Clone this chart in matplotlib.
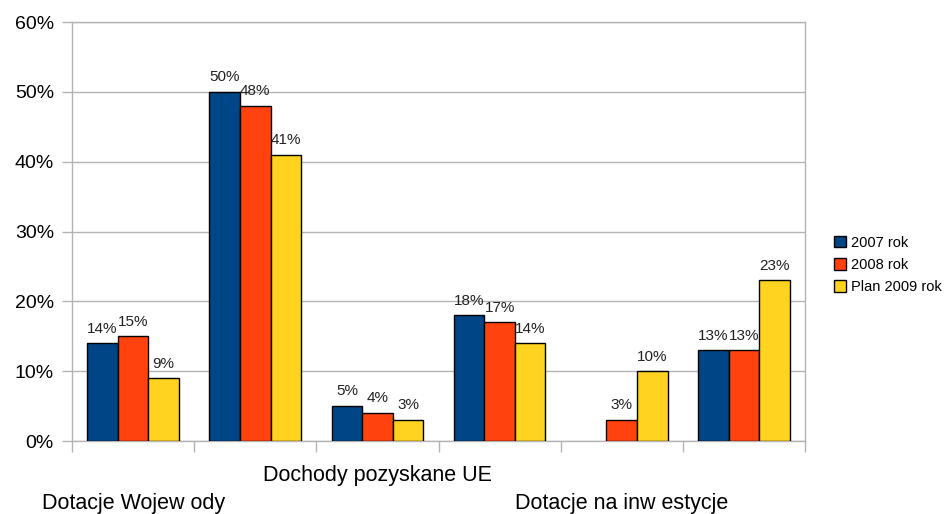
import numpy as np
import matplotlib
matplotlib.use('Agg')
import matplotlib.pyplot as plt
from matplotlib.ticker import FuncFormatter

plt.rcParams['font.family'] = ['Liberation Sans', 'DejaVu Sans']

# data (shares in %), only every other category label is printed in the original
categories = ["Dotacje Wojew ody", "", "Dochody pozyskane UE", "", "Dotacje na inw estycje", ""]
series_names = ["2007 rok", "2008 rok", "Plan 2009 rok"]
v2007 = [14, 50, 5, 18, np.nan, 13]
v2008 = [15, 48, 4, 17, 3, 13]
v2009 = [9, 41, 3, 14, 10, 23]
colors = ['#004586', '#ff420e', '#ffd320']

grid_col = '#b3b3b3'

fig = plt.figure(figsize=(9.46, 5.14), dpi=100)
ax = fig.add_axes([72/946, 73/514, (805-72)/946, (492-73)/514])

x = np.arange(len(categories))
w = 0.25
for i, (vals, name) in enumerate(zip([v2007, v2008, v2009], series_names)):
    vals = np.array(vals, dtype=float) / 100
    pos = x + (i - 1) * w
    ax.bar(pos, vals, width=w, color=colors[i], edgecolor='black', linewidth=1, label=name, zorder=3)
    for p, v in zip(pos, vals):
        if np.isnan(v):
            continue
        ax.annotate(f"{v*100:.0f}%", (p, v), xytext=(0, 5.5), textcoords='offset points',
                    ha='center', va='bottom', fontsize=11, color='#222222', zorder=4)

ax.set_xlim(-0.5, len(categories) - 0.5)
ax.set_ylim(0, 0.6)
ax.set_yticks(np.arange(0, 0.61, 0.1))
ax.yaxis.set_major_formatter(FuncFormatter(lambda v, _: f"{v*100:.0f}%"))
ax.grid(axis='y', color=grid_col, linewidth=1, zorder=0)

ax.set_xticks(x)
ax.set_xticklabels(categories, fontsize=15.5)
ax.set_xticks(np.arange(-0.5, len(categories)), minor=True)
ax.tick_params(axis='x', which='major', length=0)
ax.tick_params(axis='x', which='minor', length=8, color=grid_col, width=1)
ax.tick_params(axis='y', length=7, color=grid_col, width=1, labelsize=14, pad=6)
# staggered category labels
for i, t in enumerate(ax.xaxis.get_major_ticks()):
    t.set_pad(17.5 if i % 4 == 2 else 37.5)

for s in ax.spines.values():
    s.set_color(grid_col)
    s.set_linewidth(1)

ax.legend(loc='center left', bbox_to_anchor=(828/946, 1 - 265/514), bbox_transform=fig.transFigure,
          frameon=False, fontsize=10.5, handlelength=0.8, handleheight=0.8,
          handletextpad=0.4, labelspacing=0.55, borderaxespad=0)

plt.savefig('out.png', dpi=100)
